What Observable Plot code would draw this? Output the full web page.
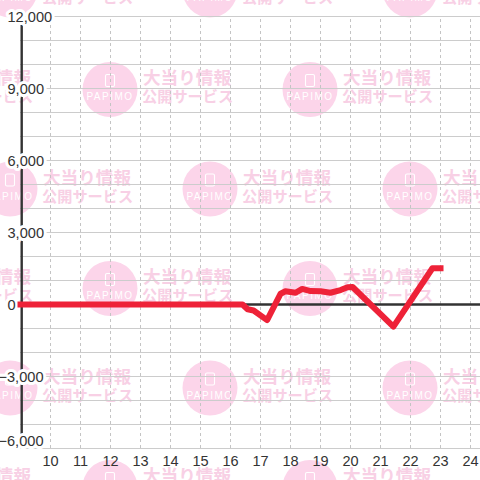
<!DOCTYPE html>
<html>
<head>
<meta charset="utf-8">
<script src="https://cdn.jsdelivr.net/npm/d3@7"></script>
<script src="https://cdn.jsdelivr.net/npm/@observablehq/plot@0.6"></script>
<style>
  html, body { margin: 0; padding: 0; background: white; }
  #chart svg { display: block; }
</style>
</head>
<body>
<div id="chart"></div>
<script>
// ---- data ----
const hours  = [9, 16.4, 16.57, 16.77, 17.22, 17.67, 17.83, 18.17, 18.39, 18.67, 19.0, 19.33, 19.67, 19.9, 20.07, 21.43, 22.73, 23.0];
const values = [0, 0, -200, -250, -650, 450, 550, 490, 650, 560, 550, 490, 600, 720, 730, -920, 1510, 1510];
const xTicks = [10, 11, 12, 13, 14, 15, 16, 17, 18, 19, 20, 21, 22, 23, 24];
const yLabelsPos = [12000, 9000, 6000, 3000, 0];
const yLabelsNeg = [-3000];
const yLabelBottom = [-6000];
const yGrid = [12000, 11000, 10000, 9000, 8000, 7000, 6000, 5000, 4000, 3000, 2000, 1000, -1000, -2000, -3000, -4000, -5000, -6000];

const series = hours.map((h, i) => ({hour: h, value: values[i]}));
const fmt = d3.format(",");
const X0 = 9, X1 = 24.333;

const labelFont = "'Liberation Sans', Arial, sans-serif";
const halo = {fontSize: 14.6, fill: "#333333", stroke: "white", strokeWidth: 6, paintOrder: "stroke", strokeLinejoin: "round"};

const chart = Plot.plot({
  width: 480,
  height: 480,
  marginLeft: 20,
  marginRight: 0,
  marginTop: 16,
  marginBottom: 32,
  style: {background: "white", fontFamily: labelFont},
  x: {type: "linear", domain: [X0, X1], axis: null},
  y: {type: "linear", domain: [-6000, 12000], axis: null},
  marks: [
    Plot.ruleY(yGrid, {stroke: "#cccccc", strokeWidth: 1}),
    Plot.ruleX(xTicks, {y1: -6000, y2: 12000, stroke: "#c4c4c4", strokeWidth: 1, strokeDasharray: "3,3"}),
    Plot.ruleY([0], {stroke: "#333333", strokeWidth: 2.6}),
    Plot.ruleX([X0], {y1: -6000, y2: 12000, dx: 1.2, stroke: "#333333", strokeWidth: 2.4}),
    Plot.text(yLabelsPos, {x: X0, y: d => d, text: d => fmt(d), textAnchor: "start", dx: -13, dy: 0.5, ...halo}),
    Plot.text(yLabelsNeg, {x: X0, y: d => d, text: d => fmt(d), textAnchor: "end", dx: 23, dy: 0.5, ...halo}),
    Plot.text(yLabelBottom, {x: X0, y: d => d, text: d => fmt(d), textAnchor: "end", dx: 23, dy: -7, ...halo}),
    Plot.line(series, {x: "hour", y: "value", stroke: "#ee2238", strokeWidth: 6,
      strokeLinecap: "square", strokeLinejoin: "round"}),
    Plot.text(xTicks, {x: d => d, y: -6000, dy: 13, text: d => String(d), fontSize: 14.5, fill: "#333333"})
  ]
});

document.getElementById("chart").appendChild(chart);

// ---- background watermark (decoration) ----
const svg = d3.select(chart);
const wm = svg.insert("g", ":first-child").attr("class", "watermark").attr("text-anchor", "start");
svg.insert("rect", ":first-child").attr("width", 480).attr("height", 480).attr("fill", "white");
const cjk = "'Noto Sans CJK JP', 'Noto Sans CJK SC', sans-serif";
for (let r = 0; r < 6; r++) {
  const cy = -10 + 99.5 * r;
  const off = r % 2 === 0 ? 10 : -90;
  for (let cx = off; cx < 520; cx += 200) {
    const t = wm.append("g").attr("transform", `translate(${cx},${cy})`);
    t.append("circle").attr("r", 27.5).attr("fill", "#fcd5ea");
    t.append("rect").attr("x", -4.5).attr("y", -15).attr("width", 9).attr("height", 12).attr("rx", 1.5)
      .attr("fill", "none").attr("stroke", "white").attr("stroke-width", 1.1);
    t.append("text").attr("x", 0).attr("y", 8).attr("text-anchor", "middle").attr("dominant-baseline", "middle")
      .attr("fill", "white").attr("font-family", labelFont).attr("font-size", 10).attr("font-weight", "normal")
      .attr("letter-spacing", 1.5).text("PAPIMO");
    t.append("text").attr("x", 33).attr("y", -10).attr("text-anchor", "start").attr("dominant-baseline", "middle")
      .attr("fill", "#f8d0e5").attr("font-family", cjk).attr("font-size", 17.6).attr("font-weight", "bold")
      .text("大当り情報");
    t.append("text").attr("x", 32).attr("y", 8.5).attr("text-anchor", "start").attr("dominant-baseline", "middle")
      .attr("fill", "#f8d0e5").attr("font-family", cjk).attr("font-size", 15.2).attr("font-weight", "bold")
      .text("公開サービス");
  }
}
</script>
</body>
</html>
